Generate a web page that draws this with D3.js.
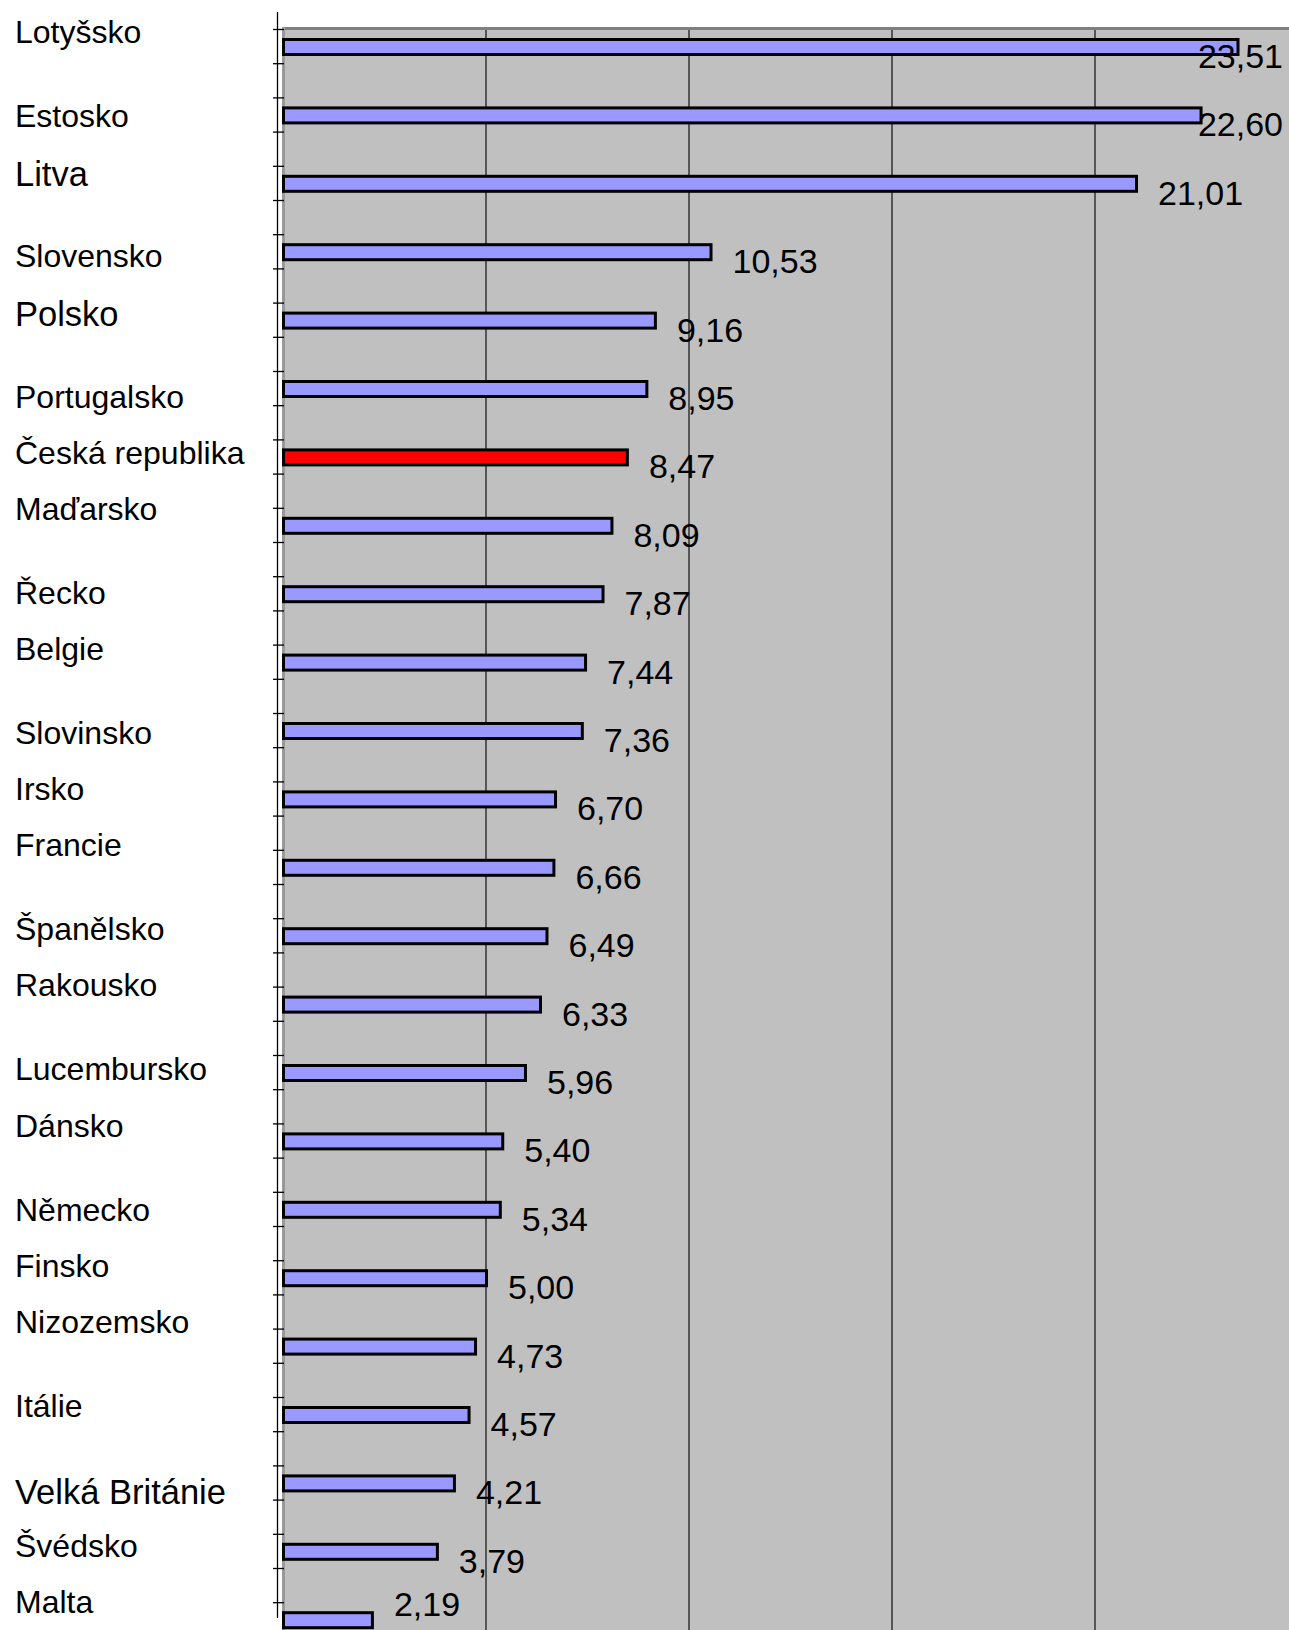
<!DOCTYPE html>
<html>
<head>
<meta charset="utf-8">
<script src="https://cdn.jsdelivr.net/npm/d3@7"></script>
<style>
  html, body { margin: 0; padding: 0; background: #fff; }
  svg { display: block; font-family: "Liberation Sans", Arial, sans-serif; }
</style>
</head>
<body>
<svg id="chart" width="1289" height="1630"></svg>
<script>
// data
var countries = ["Lotyšsko", "Estosko", "Litva", "Slovensko", "Polsko", "Portugalsko",
  "Česká republika", "Maďarsko", "Řecko", "Belgie", "Slovinsko", "Irsko", "Francie",
  "Španělsko", "Rakousko", "Lucembursko", "Dánsko", "Německo", "Finsko", "Nizozemsko",
  "Itálie", "Velká Británie", "Švédsko", "Malta"];
var values = [23.51, 22.60, 21.01, 10.53, 9.16, 8.95, 8.47, 8.09, 7.87, 7.44, 7.36, 6.70,
  6.66, 6.49, 6.33, 5.96, 5.40, 5.34, 5.00, 4.73, 4.57, 4.21, 3.79, 2.19];
var xTicks = [5, 10, 15, 20, 25];
var highlight = "Česká republika";

// layout: the category names sit in their own text block, one name per text row
var labelRows = [0, 3, 5, 8, 10, 13, 15, 17, 20, 22, 25, 27, 29, 32, 34, 37, 39, 42, 44, 46, 49, 52, 54, 56];
var largerLabels = ["Litva", "Polsko", "Velká Británie"];

var W = 1289, H = 1630;
var plotLeft = 282, plotTop = 27;
var bandTop = 29, bandStep = 68.4;
var axisX = 277.5, axisTop = 12, axisBottom = 1618;

var rows = countries.map(function(c, i) { return { name: c, value: values[i], row: labelRows[i] }; });

var svg = d3.select("#chart");

var x = d3.scaleLinear().domain([0, 25]).range([283, 283 + 25 * 40.6]);
var y = d3.scaleBand().domain(countries).range([bandTop, bandTop + bandStep * countries.length]);

var locale = d3.formatLocale({ decimal: ",", thousands: " ", grouping: [3], currency: ["", " Kč"] });
var fmt = locale.format(".2f");

// plot area
svg.append("rect")
  .attr("x", plotLeft).attr("y", plotTop)
  .attr("width", W - plotLeft).attr("height", H - plotTop)
  .attr("fill", "#c0c0c0");

svg.append("line")
  .attr("x1", plotLeft).attr("x2", W)
  .attr("y1", plotTop + 1.5).attr("y2", plotTop + 1.5)
  .attr("stroke", "#808080").attr("stroke-width", 3);

svg.append("line")
  .attr("x1", plotLeft + 1.5).attr("x2", plotLeft + 1.5)
  .attr("y1", plotTop).attr("y2", H)
  .attr("stroke", "#999").attr("stroke-width", 3);

// vertical gridlines
svg.append("g")
  .selectAll("line")
  .data(xTicks)
  .enter().append("line")
    .attr("x1", function(d) { return x(d); })
    .attr("x2", function(d) { return x(d); })
    .attr("y1", plotTop + 3).attr("y2", H)
    .attr("stroke", "#333").attr("stroke-width", 1.5);

// category axis with ticks at every half band
var tickYs = d3.range(0, countries.length * 2)
  .map(function(k) { return bandTop + k * bandStep / 2; })
  .filter(function(v) { return v <= axisBottom; });

var axis = svg.append("g");
axis.append("line")
  .attr("x1", axisX).attr("x2", axisX)
  .attr("y1", axisTop).attr("y2", axisBottom)
  .attr("stroke", "#000").attr("stroke-width", 1.3);
axis.selectAll(".tick")
  .data(tickYs)
  .enter().append("line")
    .attr("class", "tick")
    .attr("x1", 273).attr("x2", 284)
    .attr("y1", function(d) { return d + 0.5; })
    .attr("y2", function(d) { return d + 0.5; })
    .attr("stroke", "#000").attr("stroke-width", 1.3);

// bars
var barOffset = 10.5, barH = 15;
svg.append("g")
  .selectAll("rect")
  .data(rows)
  .enter().append("rect")
    .attr("x", x(0) + 0.5)
    .attr("y", function(d) { return y(d.name) + barOffset; })
    .attr("width", function(d) { return x(d.value) - x(0); })
    .attr("height", barH)
    .attr("fill", function(d) { return d.name === highlight ? "#ff0000" : "#9999ff"; })
    .attr("stroke", "#000")
    .attr("stroke-width", 3);

// value labels, kept inside the picture
svg.append("g")
  .selectAll("text")
  .data(rows)
  .enter().append("text")
    .attr("font-size", 34)
    .attr("fill", "#000")
    .text(function(d) { return fmt(d.value); })
    .each(function(d) {
      var t = d3.select(this);
      var w = this.getComputedTextLength();
      var tx = Math.min(x(d.value) + 22, W - 6 - w);
      var ty = Math.min(y(d.name) + barOffset + barH / 2 + 21, H - 14);
      t.attr("x", tx).attr("y", ty);
    });

// category labels
var labelY = d3.scaleLinear().domain([0, 56]).range([43, 43 + 56 * 28.04]);
svg.append("g")
  .selectAll("text")
  .data(rows)
  .enter().append("text")
    .attr("x", 15)
    .attr("y", function(d) { return labelY(d.row) + (largerLabels.indexOf(d.name) >= 0 ? 3 : 0); })
    .attr("font-size", function(d) { return largerLabels.indexOf(d.name) >= 0 ? 34.5 : 32; })
    .attr("fill", "#000")
    .text(function(d) { return d.name; });
</script>
</body>
</html>
